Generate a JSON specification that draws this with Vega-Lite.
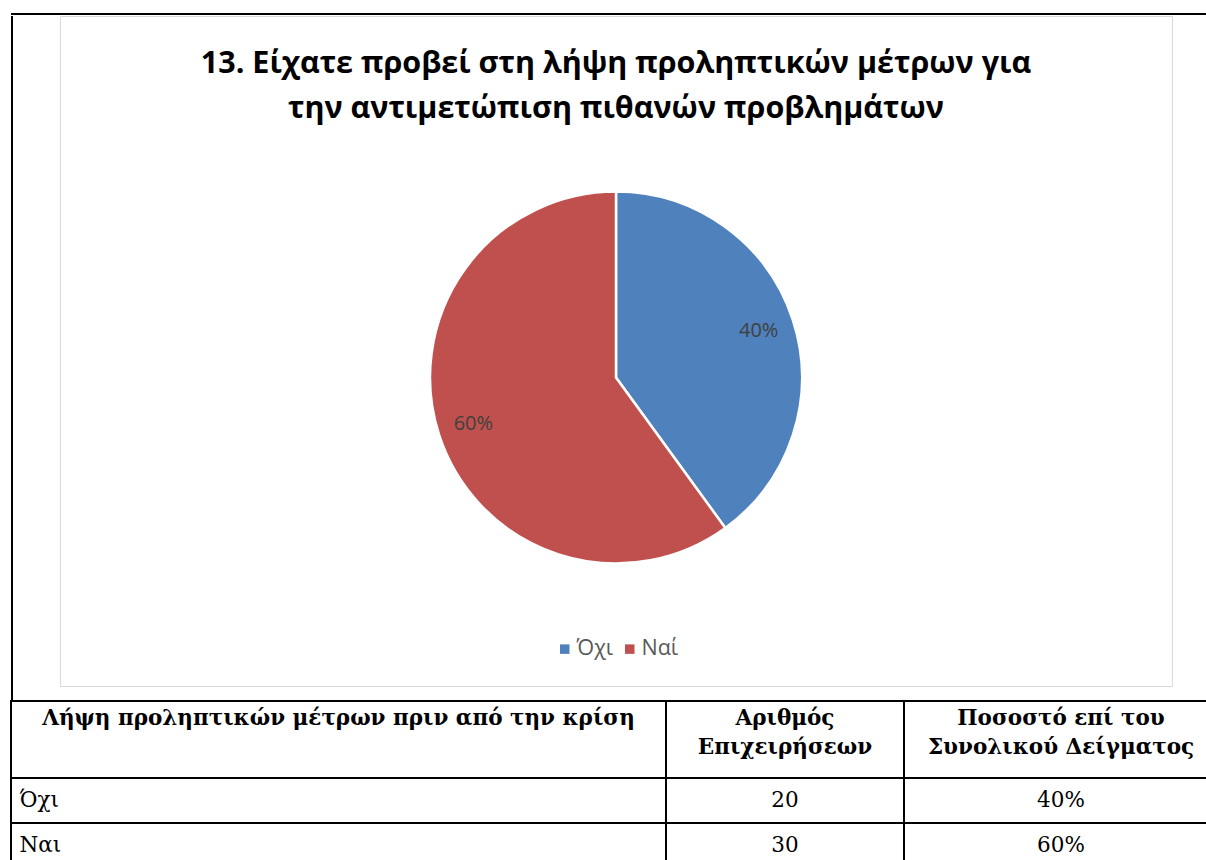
{
  "$schema": "https://vega.github.io/schema/vega-lite/v6.json",
  "background": "white",
  "padding": {"left": 9, "top": 13, "right": 0, "bottom": 0},
  "config": {"view": {"stroke": null}, "concat": {"spacing": 0}},
  "datasets": {
    "answers": [
      {"answer": "Όχι", "count": 20, "pct": "40%"},
      {"answer": "Ναί", "count": 30, "pct": "60%"}
    ],
    "table": [
      {"label": "Όχι", "count": 20, "pct": "40%"},
      {"label": "Ναι", "count": 30, "pct": "60%"}
    ],
    "header": [
      {"c1": "Λήψη προληπτικών μέτρων πριν από την κρίση", "c2": "Αριθμός\nΕπιχειρήσεων", "c3": "Ποσοστό επί του\nΣυνολικού Δείγματος"}
    ],
    "frame": [{}]
  },
  "spacing": 0,
  "bounds": "full",
  "vconcat": [
    {
      "data": {"name": "frame"},
      "width": 1208,
      "height": 2,
      "mark": {"type": "rect", "color": "black"},
      "encoding": {}
    },
    {
      "spacing": 47,
      "bounds": "flush",
      "hconcat": [
        {
          "data": {"name": "frame"},
          "width": 2,
          "height": 684,
          "mark": {"type": "rect", "color": "black"},
          "encoding": {}
        },
        {
          "data": {"name": "answers"},
          "width": 1112,
          "height": 670,
          "view": {"stroke": "#D9D9D9", "strokeWidth": 1},
          "title": {
            "text": ["13. Είχατε προβεί στη λήψη προληπτικών μέτρων για", "την αντιμετώπιση πιθανών προβλημάτων"],
            "font": "Open Sans",
            "fontSize": 30.5,
            "fontWeight": "bold",
            "color": "#000000",
            "lineHeight": 45,
            "offset": -108,
            "anchor": "middle"
          },
          "encoding": {
            "theta": {"field": "count", "type": "quantitative", "stack": true},
            "order": {"field": "answer", "type": "nominal", "sort": "ascending"}
          },
          "layer": [
            {
              "mark": {"type": "arc", "outerRadius": 186, "stroke": "white", "strokeWidth": 2.5, "yOffset": 26.5},
              "encoding": {
                "color": {
                  "field": "answer",
                  "type": "nominal",
                  "scale": {"domain": ["Όχι", "Ναί"], "range": ["#4F81BD", "#C0504D"]},
                  "legend": {
                    "orient": "none",
                    "legendX": 543,
                    "legendY": 625,
                    "direction": "horizontal",
                    "title": null,
                    "symbolType": "square",
                    "symbolSize": 90,
                    "symbolStrokeWidth": 0,
                    "labelFont": "Open Sans",
                    "labelFontSize": 21.5,
                    "labelColor": "#595959",
                    "columnPadding": 5,
                    "labelOffset": 1
                  }
                }
              }
            },
            {
              "mark": {"type": "text", "radius": 150, "yOffset": 26.5, "font": "Open Sans", "fontSize": 20},
              "encoding": {
                "text": {"field": "pct", "type": "nominal"},
                "detail": {"field": "answer", "type": "nominal"},
                "color": {"value": "#404040"}
              }
            }
          ]
        }
      ]
    },
    {
      "spacing": 0,
      "bounds": "flush",
      "hconcat": [
        {
          "width": 655,
          "height": 167,
          "view": {"stroke": "black", "strokeWidth": 2},
          "layer": [
            {
              "data": {"name": "header"},
              "mark": {"type": "text", "font": "DejaVu Serif", "fontSize": 21.5, "fontWeight": "bold", "baseline": "top", "dy": -77, "lineBreak": "\n", "lineHeight": 29, "color": "black"},
              "encoding": {"text": {"field": "c1", "type": "nominal"}}
            },
            {
              "data": {"name": "table"},
              "mark": {"type": "rect", "filled": false, "stroke": "black", "strokeWidth": 2},
              "encoding": {
                "y": {
                  "field": "label",
                  "type": "nominal",
                  "sort": null,
                  "scale": {"paddingInner": 0, "paddingOuter": 0.85556, "align": 1},
                  "axis": {
                    "title": null,
                    "orient": "left",
                    "ticks": false,
                    "domain": false,
                    "grid": false,
                    "labelAlign": "left",
                    "labelBaseline": "middle",
                    "labelPadding": -8,
                    "labelFont": "DejaVu Serif",
                    "labelFontSize": 21.5,
                    "labelColor": "black",
                    "minExtent": 0,
                    "maxExtent": 0
                  }
                }
              }
            }
          ]
        },
        {
          "width": 238,
          "height": 167,
          "view": {"stroke": "black", "strokeWidth": 2},
          "layer": [
            {
              "data": {"name": "header"},
              "mark": {"type": "text", "font": "DejaVu Serif", "fontSize": 21.5, "fontWeight": "bold", "baseline": "top", "dy": -77, "lineBreak": "\n", "lineHeight": 29, "color": "black"},
              "encoding": {"text": {"field": "c2", "type": "nominal"}}
            },
            {
              "data": {"name": "table"},
              "encoding": {
                "y": {"field": "label", "type": "nominal", "sort": null, "scale": {"paddingInner": 0, "paddingOuter": 0.85556, "align": 1}, "axis": null}
              },
              "layer": [
                {"mark": {"type": "rect", "filled": false, "stroke": "black", "strokeWidth": 2}},
                {
                  "mark": {"type": "text", "font": "DejaVu Serif", "fontSize": 21.5, "color": "black"},
                  "encoding": {"text": {"field": "count", "type": "quantitative"}}
                }
              ]
            }
          ]
        },
        {
          "width": 314,
          "height": 167,
          "view": {"stroke": "black", "strokeWidth": 2},
          "layer": [
            {
              "data": {"name": "header"},
              "mark": {"type": "text", "font": "DejaVu Serif", "fontSize": 21.5, "fontWeight": "bold", "baseline": "top", "dy": -77, "lineBreak": "\n", "lineHeight": 29, "color": "black"},
              "encoding": {"text": {"field": "c3", "type": "nominal"}}
            },
            {
              "data": {"name": "table"},
              "encoding": {
                "y": {"field": "label", "type": "nominal", "sort": null, "scale": {"paddingInner": 0, "paddingOuter": 0.85556, "align": 1}, "axis": null}
              },
              "layer": [
                {"mark": {"type": "rect", "filled": false, "stroke": "black", "strokeWidth": 2}},
                {
                  "mark": {"type": "text", "font": "DejaVu Serif", "fontSize": 21.5, "color": "black"},
                  "encoding": {"text": {"field": "pct", "type": "nominal"}}
                }
              ]
            }
          ]
        }
      ]
    }
  ]
}
